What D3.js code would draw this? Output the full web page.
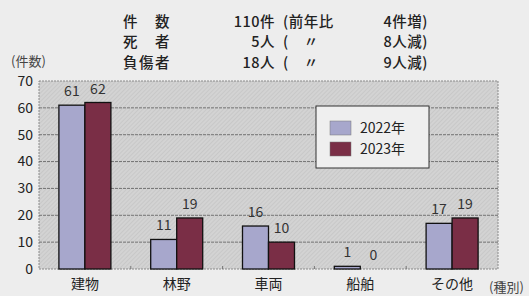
<!DOCTYPE html>
<html>
<head>
<meta charset="utf-8">
<script src="https://cdn.jsdelivr.net/npm/d3@7"></script>
<style>
  body { margin: 0; background: #ededed; }
  svg { display: block; }
  text { font-family: "Noto Sans CJK JP", "Noto Sans", sans-serif; fill: #222; }
</style>
</head>
<body>
<svg id="chart" width="529" height="296"></svg>
<script>
const categories = ["建物", "林野", "車両", "船舶", "その他"]
const series = ["2022年", "2023年"]
const values2022 = [61, 11, 16, 1, 17]
const values2023 = [62, 19, 10, 0, 19]
const yTicks = [0, 10, 20, 30, 40, 50, 60, 70]
const summaryRows = [
    ["件　数", "110件", "(前年比", "4件増)"],
    ["死　者", "5人", "(　〃", "8人減)"],
    ["負傷者", "18人", "(　〃", "9人減)"]
]
const colors = ["#a7a7cc", "#7a2e46"]

const svg = d3.select("#chart")
const margin = {left: 39, top: 81, right: 31, bottom: 27}
const W = 529, H = 296
const plotW = W - margin.left - margin.right
const plotH = H - margin.top - margin.bottom

// hatch pattern for the plot background
const defs = svg.append("defs")
const pat = defs.append("pattern")
    .attr("id", "hatch")
    .attr("width", 3).attr("height", 3)
    .attr("patternUnits", "userSpaceOnUse")
    .attr("patternTransform", "rotate(45)")
pat.append("rect").attr("width", 3).attr("height", 3).attr("fill", "#d3d3d3")
pat.append("line").attr("x1", 0).attr("y1", 0).attr("x2", 0).attr("y2", 3)
    .attr("stroke", "#bdbdbd").attr("stroke-width", 1)

const x0 = d3.scaleBand().domain(categories).range([0, plotW])
const x1 = d3.scaleBand().domain(series).range([0, 52])
const y = d3.scaleLinear().domain([0, 70]).range([plotH, 0])

const g = svg.append("g").attr("transform", `translate(${margin.left},${margin.top})`)

g.append("rect")
    .attr("width", plotW).attr("height", plotH)
    .attr("fill", "url(#hatch)")
    .attr("stroke", "#8a8a8a").attr("stroke-width", 1)
    .attr("stroke-dasharray", "2,1")

// grid lines
g.selectAll(".grid").data(yTicks.filter(d => d > 0 && d < 70)).enter()
    .append("line")
    .attr("x1", 0).attr("x2", plotW)
    .attr("y1", d => y(d)).attr("y2", d => y(d))
    .attr("stroke", "#737373").attr("stroke-width", 1)
    .attr("stroke-dasharray", "3,1")

// y axis labels
g.selectAll(".ylab").data(yTicks).enter()
    .append("text")
    .attr("x", -6).attr("y", d => y(d))
    .attr("dy", "0.35em")
    .attr("text-anchor", "end")
    .style("font-size", "14px")
    .text(d => d)

// small ticks between categories
g.selectAll(".xtick").data(categories.slice(1)).enter()
    .append("line")
    .attr("x1", d => x0(d)).attr("x2", d => x0(d))
    .attr("y1", plotH - 3).attr("y2", plotH)
    .attr("stroke", "#777")

const data = categories.map((c, i) => ({cat: c, vals: [values2022[i], values2023[i]]}))

const groups = g.selectAll(".grp").data(data).enter()
    .append("g")
    .attr("transform", d => `translate(${x0(d.cat) + x0.bandwidth() / 2 - 26},0)`)

groups.selectAll("rect").data(d => d.vals.map((v, i) => ({s: series[i], v: v, i: i}))).enter()
    .append("rect")
    .attr("x", d => x1(d.s))
    .attr("width", x1.bandwidth())
    .attr("y", d => y(d.v))
    .attr("height", d => plotH - y(d.v))
    .attr("fill", d => colors[d.i])
    .attr("stroke", d => d.v > 0 ? "#111" : "none")
    .attr("stroke-width", 1.3)

groups.selectAll(".val").data(d => d.vals.map((v, i) => ({s: series[i], v: v}))).enter()
    .append("text")
    .attr("x", d => x1(d.s) + x1.bandwidth() / 2)
    .attr("y", d => y(d.v) - 9)
    .attr("text-anchor", "middle")
    .style("font-size", "14px")
    .style("fill", "#333")
    .text(d => d.v)

// category labels
g.selectAll(".xlab").data(categories).enter()
    .append("text")
    .attr("x", d => x0(d) + x0.bandwidth() / 2)
    .attr("y", plotH + 20)
    .attr("text-anchor", "middle")
    .style("font-size", "14px")
    .text(d => d)

// legend
const lg = svg.append("g").attr("transform", "translate(316,106)")
lg.append("rect").attr("width", 113).attr("height", 62)
    .attr("fill", "#efefef").attr("stroke", "#333").attr("stroke-width", 1)
series.forEach((s, i) => {
    lg.append("rect").attr("x", 14).attr("y", 15 + i * 21)
        .attr("width", 21).attr("height", 14)
        .attr("fill", colors[i]).attr("stroke", "#777").attr("stroke-width", 0.5)
    lg.append("text").attr("x", 44).attr("y", 22 + i * 21)
        .attr("dy", "0.35em")
        .style("font-size", "14px")
        .text(s)
})

// axis titles
svg.append("text").attr("x", 11).attr("y", 66)
    .style("font-size", "13px").style("fill", "#444").text("(件数)")
svg.append("text").attr("x", 489).attr("y", 292)
    .style("font-size", "13px").style("fill", "#444").text("(種別)")

// summary block
const colX = [123, 275, 283, 428]
const anchors = ["start", "end", "start", "end"]
summaryRows.forEach((row, r) => {
    row.forEach((t, c) => {
        svg.append("text")
            .attr("x", colX[c]).attr("y", 26.5 + r * 20.5)
            .attr("text-anchor", anchors[c])
            .style("font-size", "14.5px")
            .style("font-weight", 500)
            .style("letter-spacing", c === 0 ? "1.5px" : "0.5px")
            .text(t)
    })
})
</script>
</body>
</html>
